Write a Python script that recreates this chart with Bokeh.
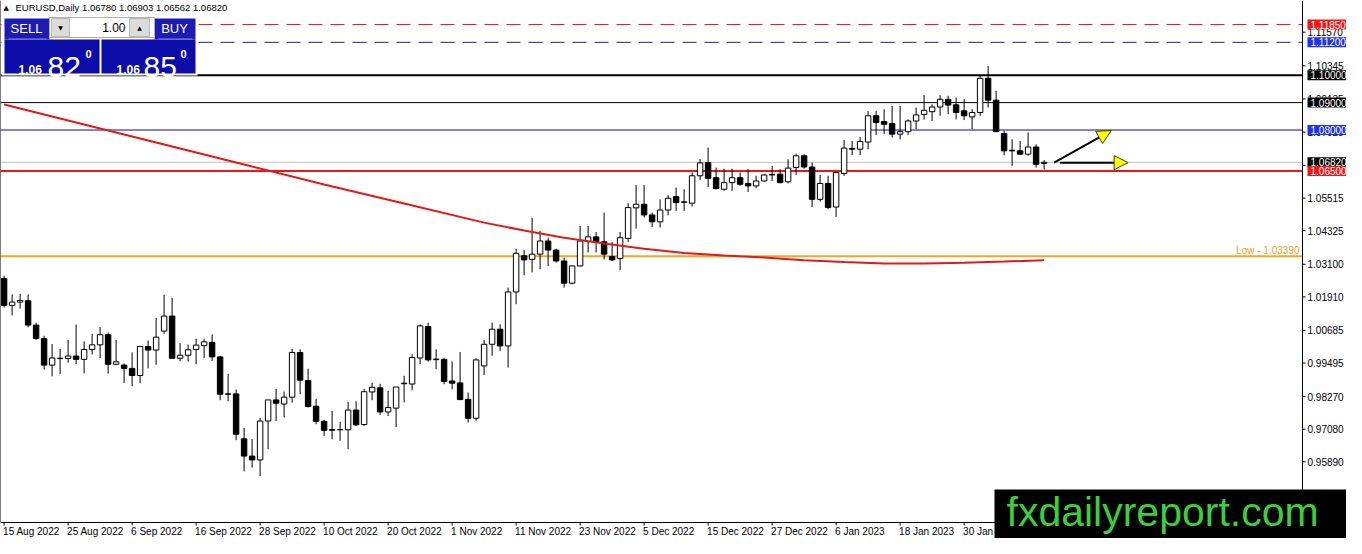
from bokeh.plotting import figure
from bokeh.models import (Range1d, ColumnDataSource, Label, BoxAnnotation, Arrow, NormalHead)
from bokeh.core.properties import value
from bokeh.embed import file_html
from bokeh.resources import INLINE

# ---------------- data ----------------
bar_index = list(range(131))
opens = [1.0258, 1.0160, 1.0172, 1.0177, 1.0088, 1.0039, 0.9942, 0.9967, 0.9966, 0.9975,
         0.9963, 0.9999, 1.0016, 1.0053, 0.9945, 0.9942, 0.9930, 0.9904, 1.0010, 0.9997,
         1.0066, 1.0121, 0.9967, 0.9978, 0.9999, 1.0013, 1.0025, 0.9972, 0.9837, 0.9837,
         0.9673, 0.9610, 0.9596, 0.9738, 0.9815, 0.9800, 0.9825, 0.9988, 0.9886, 0.9792,
         0.9737, 0.9704, 0.9707, 0.9706, 0.9778, 0.9725, 0.9844, 0.9859, 0.9771, 0.9785,
         0.9874, 0.9873, 0.9968, 1.0083, 0.9962, 0.9963, 0.9884, 0.9877, 0.9817, 0.9748,
         0.9939, 1.0018, 1.0073, 1.0012, 1.0209, 1.0341, 1.0328, 1.0347, 1.0395, 1.0362,
         1.0322, 1.0241, 1.0304, 1.0393, 1.0410, 1.0392, 1.0338, 1.0331, 1.0404, 1.0516,
         1.0529, 1.0490, 1.0465, 1.0508, 1.0557, 1.0536, 1.0533, 1.0633, 1.0681, 1.0626,
         1.0584, 1.0608, 1.0626, 1.0605, 1.0596, 1.0614, 1.0636, 1.0639, 1.0611, 1.0663,
         1.0706, 1.0665, 1.0547, 1.0605, 1.0519, 1.0641, 1.0733, 1.0730, 1.0756, 1.0852,
         1.0831, 1.0824, 1.0785, 1.0794, 1.0833, 1.0857, 1.0867, 1.0884, 1.0912, 1.0892,
         1.0870, 1.0848, 1.0864, 1.0989, 1.0909, 1.0787, 1.0726, 1.0724, 1.0712, 1.0738,
         1.06780]
highs = [1.0268, 1.0200, 1.0202, 1.0200, 1.0097, 1.0049, 1.0019, 1.0001, 1.0034, 1.0090,
         1.0029, 1.0056, 1.0081, 1.0061, 1.0034, 0.9948, 0.9988, 1.0011, 1.0032, 1.0114,
         1.0199, 1.0188, 1.0022, 1.0017, 1.0038, 1.0038, 1.0054, 0.9976, 0.9910, 0.9853,
         0.9713, 0.9672, 0.9750, 0.9815, 0.9855, 0.9846, 1.0001, 1.0000, 0.9929, 0.9819,
         0.9742, 0.9775, 0.9735, 0.9808, 0.9810, 0.9855, 0.9878, 0.9874, 0.9848, 0.9862,
         0.9903, 0.9982, 1.0091, 1.0097, 1.0000, 0.9969, 0.9955, 0.9990, 0.9842, 0.9967,
         1.0034, 1.0097, 1.0091, 1.0225, 1.0367, 1.0363, 1.0480, 1.0432, 1.0407, 1.0367,
         1.0334, 1.0306, 1.0450, 1.0450, 1.0428, 1.0499, 1.0392, 1.0428, 1.0533, 1.0599,
         1.0599, 1.0499, 1.0547, 1.0563, 1.0590, 1.0584, 1.0645, 1.0694, 1.0736, 1.0663,
         1.0659, 1.0659, 1.0645, 1.0657, 1.0633, 1.0640, 1.0669, 1.0657, 1.0693, 1.0714,
         1.0712, 1.0681, 1.0636, 1.0633, 1.0645, 1.0763, 1.0760, 1.0775, 1.0869, 1.0870,
         1.0876, 1.0888, 1.0888, 1.0839, 1.0882, 1.0928, 1.0894, 1.0927, 1.0925, 1.0919,
         1.0913, 1.0876, 1.0998, 1.1034, 1.0943, 1.0797, 1.0766, 1.0760, 1.0791, 1.0748,
         1.06903]
lows = [1.0152, 1.0123, 1.0148, 1.0080, 1.0034, 0.9926, 0.9901, 0.9909, 0.9951, 0.9946,
        0.9912, 0.9981, 0.9968, 0.9911, 0.9942, 0.9877, 0.9865, 0.9876, 0.9930, 0.9943,
        1.0056, 0.9966, 0.9956, 0.9955, 0.9945, 0.9967, 0.9957, 0.9814, 0.9810, 0.9668,
        0.9554, 0.9568, 0.9537, 0.9635, 0.9738, 0.9751, 0.9805, 0.9836, 0.9787, 0.9726,
        0.9684, 0.9671, 0.9666, 0.9635, 0.9720, 0.9720, 0.9814, 0.9760, 0.9756, 0.9716,
        0.9806, 0.9850, 0.9946, 0.9955, 0.9927, 0.9872, 0.9854, 0.9815, 0.9732, 0.9738,
        0.9906, 0.9976, 0.9994, 0.9933, 1.0164, 1.0270, 1.0280, 1.0292, 1.0304, 1.0316,
        1.0225, 1.0237, 1.0302, 1.0353, 1.0353, 1.0328, 1.0322, 1.0288, 1.0392, 1.0440,
        1.0481, 1.0446, 1.0444, 1.0489, 1.0505, 1.0505, 1.0521, 1.0617, 1.0592, 1.0584,
        1.0578, 1.0578, 1.0596, 1.0574, 1.0588, 1.0610, 1.0614, 1.0605, 1.0605, 1.0636,
        1.0659, 1.0519, 1.0539, 1.0511, 1.0483, 1.0633, 1.0709, 1.0709, 1.0730, 1.0782,
        1.0785, 1.0773, 1.0766, 1.0782, 1.0803, 1.0838, 1.0833, 1.0852, 1.0858, 1.0839,
        1.0836, 1.0803, 1.0852, 1.0882, 1.0794, 1.0708, 1.0669, 1.0709, 1.0706, 1.0663,
        1.06562]
closes = [1.0160, 1.0172, 1.0178, 1.0088, 1.0039, 0.9942, 0.9968, 0.9966, 0.9975, 0.9963,
          0.9999, 1.0016, 1.0053, 0.9945, 0.9954, 0.9930, 0.9904, 1.0010, 0.9997, 1.0044,
          1.0121, 0.9967, 0.9978, 0.9998, 1.0015, 1.0027, 0.9972, 0.9836, 0.9836, 0.9690,
          0.9610, 0.9596, 0.9738, 0.9815, 0.9803, 0.9825, 0.9988, 0.9887, 0.9791, 0.9737,
          0.9704, 0.9707, 0.9706, 0.9778, 0.9724, 0.9845, 0.9861, 0.9771, 0.9787, 0.9862,
          0.9876, 0.9970, 1.0085, 0.9961, 0.9964, 0.9882, 0.9876, 0.9816, 0.9748, 0.9961,
          1.0018, 1.0073, 1.0012, 1.0209, 1.0350, 1.0326, 1.0347, 1.0395, 1.0362, 1.0322,
          1.0241, 1.0304, 1.0395, 1.0410, 1.0392, 1.0347, 1.0326, 1.0407, 1.0517, 1.0529,
          1.0490, 1.0465, 1.0508, 1.0551, 1.0535, 1.0538, 1.0633, 1.0680, 1.0624, 1.0586,
          1.0608, 1.0626, 1.0602, 1.0596, 1.0614, 1.0636, 1.0638, 1.0608, 1.0661, 1.0706,
          1.0665, 1.0547, 1.0605, 1.0517, 1.0645, 1.0734, 1.0730, 1.0758, 1.0852, 1.0827,
          1.0821, 1.0785, 1.0794, 1.0833, 1.0855, 1.0872, 1.0884, 1.0912, 1.0891, 1.0864,
          1.0852, 1.0864, 1.0989, 1.0909, 1.0794, 1.0724, 1.0724, 1.0712, 1.0738, 1.0675,
          1.06820]

date_tick_bars = [0, 8, 16, 24, 32, 40, 48, 56, 64, 72, 80, 88, 96, 104, 112, 120]
date_tick_labels = ["15 Aug 2022", "25 Aug 2022", "6 Sep 2022", "16 Sep 2022", "28 Sep 2022",
                    "10 Oct 2022", "20 Oct 2022", "1 Nov 2022", "11 Nov 2022", "23 Nov 2022",
                    "5 Dec 2022", "15 Dec 2022", "27 Dec 2022", "6 Jan 2023", "18 Jan 2023",
                    "30 Jan 2023"]

price_ticks = [1.11570, 1.10345, 1.09135, 1.07925, 1.06705, 1.05515, 1.04325, 1.03100,
               1.01910, 1.00685, 0.99495, 0.98270, 0.97080, 0.95890]

ma_bars = [0, 10, 20, 30, 40, 50, 60, 65, 70, 75, 80, 85, 90, 95, 100, 105, 110, 115, 120, 125, 130]
ma_values = [1.0893, 1.0820, 1.0747, 1.0674, 1.0601, 1.0532, 1.0462, 1.0433, 1.0407, 1.0386,
             1.0367, 1.0351, 1.0342, 1.0335, 1.0325, 1.0318, 1.0313, 1.0313, 1.0316, 1.0320, 1.0325]

level_prices = [1.11850, 1.11200, 1.10000, 1.09000, 1.08000, 1.06820, 1.06500]
level_line_colors = ["#e81c1c", "#1c1ca0", "#000000", "#000000", "#0a0aa0", "#c0c0c0", "#f01414"]
level_box_colors = ["#f01818", "#1e32f0", "#000000", "#000000", "#1e32f0", "#000000", "#f01818"]
level_widths = [1, 1, 2, 1, 1, 1, 2]
level_dashes = ["14 8", "14 8", "solid", "solid", "solid", "solid", "solid"]
low_price = 1.03390

symbol = "EURUSD,Daily"
header_ohlc = [1.06780, 1.06903, 1.06562, 1.06820]
sell_quote = ("1.06", "82", "0")
buy_quote = ("1.06", "85", "0")
lot_size = "1.00"

# arrows (bar index, price)
arrow_up = (131.25, 1.0681, 138.4, 1.0798)
arrow_flat = (132.0, 1.0681, 140.5, 1.0681)

# ---------------- geometry ----------------
W, H = 1346, 538
CHART_W, CHART_H = 1302, 522      # price chart area; rest is price scale / time scale
PX_PER_BAR = 8.0
PX_PER_UNIT = 2740.0
x_left = -0.45
y_top = 1.12727
x_right = x_left + CHART_W / PX_PER_BAR
y_bottom = y_top - CHART_H / PX_PER_UNIT

p = figure(width=W, height=H, output_backend="svg", toolbar_location=None,
           x_range=Range1d(x_left, x_left + W / PX_PER_BAR),
           y_range=Range1d(y_top - H / PX_PER_UNIT, y_top),
           x_axis_location=None, y_axis_location=None,
           min_border=0, min_border_left=0, min_border_right=0,
           min_border_top=0, min_border_bottom=0)
p.background_fill_color = "white"
p.border_fill_color = "white"
p.outline_line_color = None
p.grid.visible = False

FONT = "Liberation Sans"

# horizontal levels
for pr, lc, lw, ld in zip(level_prices, level_line_colors, level_widths, level_dashes):
    p.line([x_left, x_right], [pr, pr], line_color=lc, line_width=lw, line_dash=ld)
p.line([x_left, x_right], [low_price, low_price], line_color="#f5a623", line_width=2)

# candles
src = ColumnDataSource(dict(
    x=bar_index, o=opens, h=highs, l=lows, c=closes,
    top=[max(a, b) for a, b in zip(opens, closes)],
    bottom=[min(a, b) for a, b in zip(opens, closes)],
    fill=["white" if c >= o else "black" for o, c in zip(opens, closes)],
))
p.segment(x0="x", y0="h", x1="x", y1="l", source=src, line_color="black", line_width=1)
p.vbar(x="x", width=0.68, top="top", bottom="bottom", fill_color="fill",
       line_color="black", line_width=1, source=src)

# moving average
p.line(ma_bars, ma_values, line_color="#e01a1a", line_width=2)

# chart frame: left border, price scale line, time scale line
p.line([x_left, x_left], [y_bottom, y_top], line_color="black", line_width=1)
p.line([x_right, x_right], [y_bottom, y_top], line_color="black", line_width=1)
p.line([x_left, x_right], [y_bottom, y_bottom], line_color="black", line_width=1)

# price scale ticks + labels
p.segment(x0=[x_right] * len(price_ticks), x1=[x_right + 3 / PX_PER_BAR] * len(price_ticks),
          y0=price_ticks, y1=price_ticks, line_color="black", line_width=1)
p.text(x=[x_right] * len(price_ticks), y=price_ticks, text=["%.5f" % t for t in price_ticks],
       x_offset=5, text_font=value(FONT), text_font_size="10px", text_color="black",
       text_align="left", text_baseline="middle")

# time scale ticks + labels
p.segment(x0=date_tick_bars, x1=date_tick_bars, y0=[y_bottom] * len(date_tick_bars),
          y1=[y_bottom - 3 / PX_PER_UNIT] * len(date_tick_bars), line_color="black", line_width=1)
p.text(x=date_tick_bars, y=[y_bottom] * len(date_tick_bars), text=date_tick_labels,
       x_offset=-1, y_offset=3, text_font=value(FONT), text_font_size="10px",
       text_color="black", text_align="left", text_baseline="top")

# arrows
for (xs, ys, xe, ye) in (arrow_up, arrow_flat):
    p.add_layout(Arrow(x_start=xs, y_start=ys, x_end=xe, y_end=ye, line_color="black",
                       line_width=2,
                       end=NormalHead(size=14, fill_color="#ffff00", line_color="#404000",
                                      line_width=1)))

# Low label
p.add_layout(Label(x=CHART_W - 3, y=low_price, x_units="screen", y_units="data",
                   text="Low - %.5f" % low_price, text_color="#f0a030", text_font=FONT,
                   text_font_size="10px", text_align="right", text_baseline="bottom"))

# price boxes on the right scale
for pr, bc in zip(level_prices, level_box_colors):
    p.add_layout(Label(x=CHART_W + 5, y=pr, x_units="screen", y_units="data",
                       text="%.5f" % pr, text_color="white", text_font=FONT,
                       text_font_size="10px", text_align="left", text_baseline="middle",
                       background_fill_color=bc, background_fill_alpha=1.0,
                       padding=(3, 1)))

# header (screen units from bottom-left)
def txt(x, y, t, size, color="white", align="left", baseline="alphabetic", style="normal",
        font=FONT):
    p.add_layout(Label(x=x, y=y, x_units="screen", y_units="screen", text=t,
                       text_font=font, text_font_size=size, text_color=color,
                       text_align=align, text_baseline=baseline, text_font_style=style))

def box(l, r, t, b, color, line=None):
    p.add_layout(BoxAnnotation(left=l, right=r, top=t, bottom=b, left_units="screen",
                               right_units="screen", top_units="screen", bottom_units="screen",
                               fill_color=color, fill_alpha=1.0,
                               line_color=line, line_alpha=1.0 if line else 0.0, line_width=1))

txt(3, 531, "▲", "7px", color="black", baseline="middle", font="DejaVu Sans")
txt(15, 531, symbol + "  " + " ".join("%.5f" % v for v in header_ohlc), "9.5px",
    color="black", baseline="middle")

# one-click trading panel
box(1, 197, 523, 463, "white")
box(4, 49, 520, 499, "#1c1cb4")
box(4, 99, 499, 465, "#0c0ca8")
box(154, 195, 520, 499, "#1c1cb4")
box(101, 195, 499, 465, "#0c0ca8")
box(49, 154, 521, 501, "white", "#b0b0b0")
box(51, 69, 520, 502, "#dcdcdc", "#b8b8b8")
box(129, 149, 520, 502, "#dcdcdc", "#b8b8b8")
box(8, 46, 500, 499, "#8c8ce0")
box(158, 192, 500, 499, "#8c8ce0")

txt(26, 510, "SELL", "13px", align="center", baseline="middle")
txt(174, 510, "BUY", "13px", align="center", baseline="middle")
txt(125, 511, lot_size, "12px", color="black", align="right", baseline="middle")
txt(60, 511, "▼", "6px", color="black", align="center", baseline="middle", font="DejaVu Sans")
txt(139, 511, "▲", "6px", color="black", align="center", baseline="middle", font="DejaVu Sans")

txt(18, 469, sell_quote[0], "12px", style="bold")
txt(47, 472, sell_quote[1], "30px")
txt(85, 485, sell_quote[2], "11px", style="bold")
txt(116, 469, buy_quote[0], "12px", style="bold")
txt(143, 472, buy_quote[1], "30px")
txt(180, 485, buy_quote[2], "11px", style="bold")

# watermark
box(994, 1348, 49, -2, "black")
txt(1006, 4, "fxdailyreport.com", "41px", color="#3ccf3c", baseline="bottom")

open("out.html", "w").write(file_html(p, INLINE))
